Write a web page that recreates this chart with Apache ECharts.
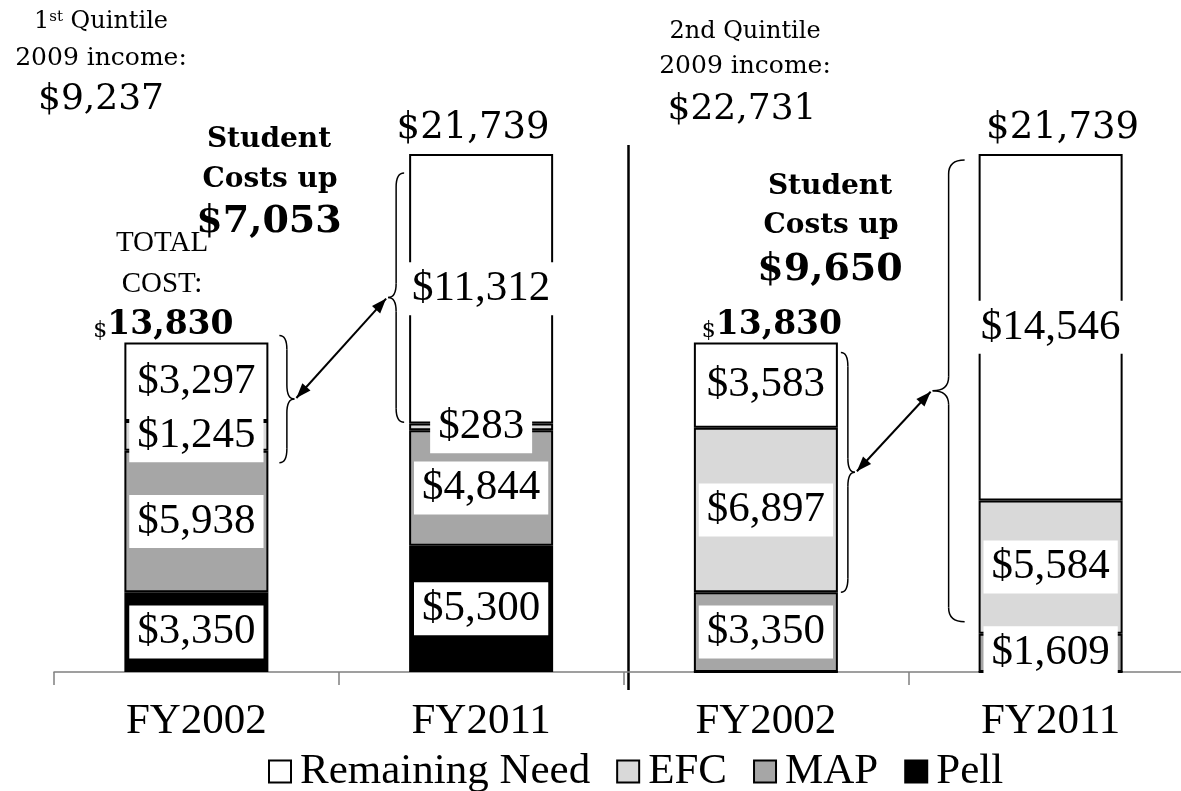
<!DOCTYPE html>
<html>
<head>
<meta charset="utf-8">
<script src="https://cdn.jsdelivr.net/npm/echarts@6/dist/echarts.min.js"></script>
<style>
  html, body { margin: 0; padding: 0; background: #fff; }
  #chart { width: 1181px; height: 791px; }
</style>
</head>
<body>
<div id="chart"></div>
<script>
// data
const categories = ['FY2002', 'FY2011', 'FY2002', 'FY2011'];
const pell = [3350, 5300, 0, 0];
const mapGrant = [5938, 4844, 3350, 1609];
const efc = [1245, 283, 6897, 5584];
const remainingNeed = [3297, 11312, 3583, 14546];

const totals = categories.map((c, i) => pell[i] + mapGrant[i] + efc[i] + remainingNeed[i]);

const serif = 'Liberation Serif';
const century = 'DejaVu Serif';

const money = (v) => '$' + v.toLocaleString('en-US');

// hide labels on empty segments
const toItems = (arr) => arr.map((v) => (v === 0 ? { value: v, label: { show: false } } : v));

const segLabel = {
  show: true,
  position: 'inside',
  formatter: (p) => money(p.value),
  backgroundColor: '#fff',
  padding: [5, 8],
  color: '#000',
  fontFamily: serif,
  fontSize: 43,
};

const makeSeries = (name, arr, color) => ({
  name,
  type: 'bar',
  stack: 'cost',
  barWidth: 144,
  data: toItems(arr),
  itemStyle: { color, borderColor: '#000', borderWidth: 2 },
  label: segLabel,
});

const chart = echarts.init(document.getElementById('chart'));

chart.setOption({
  animation: false,
  backgroundColor: '#fff',
  // the plot runs past the right edge of the picture
  grid: { left: 54, width: 1139, top: 100, height: 572, outerBoundsMode: 'none', containLabel: false },
  legend: {
    data: ['Remaining Need', 'EFC', 'MAP', 'Pell'],
    left: 268,
    top: 750,
    padding: 0,
    itemWidth: 22,
    itemHeight: 22,
    itemGap: 26,
    icon: 'rect',
    textStyle: { fontFamily: serif, fontSize: 43, color: '#000', padding: [0, 0, 0, 4] },
  },
  xAxis: {
    type: 'category',
    data: categories,
    axisLine: { lineStyle: { color: '#808080', width: 1.5 } },
    axisTick: { show: true, length: 13, lineStyle: { color: '#808080', width: 1.5 } },
    axisLabel: { margin: 28, color: '#000', fontFamily: serif, fontSize: 43 },
  },
  yAxis: {
    type: 'value',
    min: 0,
    max: 24000,
    show: false,
    splitLine: { show: false },
  },
  series: [
    makeSeries('Pell', pell, '#000000'),
    makeSeries('MAP', mapGrant, '#a6a6a6'),
    makeSeries('EFC', efc, '#d9d9d9'),
    makeSeries('Remaining Need', remainingNeed, '#ffffff'),
  ],
});

// annotations: braces, arrows, divider and texts
const px = (ci, v) => chart.convertToPixel({ gridIndex: 0 }, [ci, v]);
const halfBar = 72;

// brace around "student costs" (EFC + Remaining Need)
const braces = [
  { cat: 0, side: 'right', gap: 11, width: 15, dTop: -7, dBot: 12 },
  { cat: 1, side: 'left', gap: 5, width: 16, dTop: 19, dBot: -8 },
  { cat: 2, side: 'right', gap: 3, width: 14, dTop: 10, dBot: 0 },
  { cat: 3, side: 'left', gap: 14, width: 32, dTop: 6, dBot: -12 },
];

const graphics = [];
const tips = [];
const stroke = { fill: null, stroke: '#000', lineWidth: 1.5 };

const curve = (x1, y1, cx, cy, x2, y2) => ({
  type: 'bezierCurve',
  shape: { x1, y1, cpx1: cx, cpy1: cy, x2, y2 },
  style: stroke,
});
const seg = (x1, y1, x2, y2, st) => ({
  type: 'line',
  shape: { x1, y1, x2, y2 },
  style: st || stroke,
});

braces.forEach((b) => {
  const i = b.cat;
  const top = px(i, totals[i]);
  const bot = px(i, pell[i] + mapGrant[i]);
  const dir = b.side === 'right' ? 1 : -1;
  const xb = top[0] + dir * (halfBar + b.gap);
  const xt = xb + dir * b.width;
  const xm = (xb + xt) / 2;
  const y0 = top[1] + b.dTop;
  const y1 = bot[1] + b.dBot;
  const ym = (y0 + y1) / 2;
  const r = Math.min(14, (y1 - y0) / 4);
  graphics.push(curve(xb, y0, xm, y0, xm, y0 + r));
  graphics.push(seg(xm, y0 + r, xm, ym - r));
  graphics.push(curve(xm, ym - r, xm, ym, xt, ym));
  graphics.push(curve(xt, ym, xm, ym, xm, ym + r));
  graphics.push(seg(xm, ym + r, xm, y1 - r));
  graphics.push(curve(xm, y1 - r, xm, y1, xb, y1));
  tips.push([xt, ym]);
});

const arrowHead = (tip, from) => {
  const ang = Math.atan2(tip[1] - from[1], tip[0] - from[0]);
  const len = 15;
  const w = 5.5;
  const bx = tip[0] - len * Math.cos(ang);
  const by = tip[1] - len * Math.sin(ang);
  return {
    type: 'polygon',
    shape: {
      points: [
        tip,
        [bx + w * Math.sin(ang), by - w * Math.cos(ang)],
        [bx - w * Math.sin(ang), by + w * Math.cos(ang)],
      ],
    },
    style: { fill: '#000' },
  };
};

[[0, 1], [2, 3]].forEach(([a, b]) => {
  const p1 = [tips[a][0] + 2, tips[a][1] - 1];
  const p2 = [tips[b][0] - 2, tips[b][1] + 1];
  graphics.push(seg(p1[0], p1[1], p2[0], p2[1], { stroke: '#000', lineWidth: 2 }));
  graphics.push(arrowHead(p1, p2));
  graphics.push(arrowHead(p2, p1));
});

// divider between the two quintiles
const divX = (px(1, 0)[0] + px(2, 0)[0]) / 2 + 5;
graphics.push(seg(divX, 145, divX, 690, { stroke: '#000', lineWidth: 2.5 }));

const txt = (text, x, y, size, weight) => ({
  type: 'text',
  style: {
    text, x, y,
    fontFamily: century, fontSize: size, fontWeight: weight || 'normal',
    fill: '#000', align: 'center', verticalAlign: 'middle',
  },
});

// quintile headers
graphics.push({
  type: 'text',
  style: {
    text: '{n|1}{s|st}{n| Quintile}',
    x: 101, y: 22, align: 'center', verticalAlign: 'middle',
    rich: {
      n: { fontFamily: century, fontSize: 24, fill: '#000', verticalAlign: 'bottom' },
      s: { fontFamily: century, fontSize: 15, fill: '#000', verticalAlign: 'top' },
    },
  },
});
graphics.push(txt('2009 income:', 101, 58, 25));
graphics.push(txt('$9,237', 101, 100, 36));
graphics.push(txt('2nd Quintile', 745, 32, 24));
graphics.push(txt('2009 income:', 745, 66, 25));
graphics.push(txt('$22,731', 742, 110, 36));

// totals above the FY2011 bars
[[1, -8], [3, 12]].forEach(([i, dx]) => {
  const p = px(i, totals[i]);
  graphics.push(txt(money(totals[i]), p[0] + dx, p[1] - 25, 37));
});

// totals above the FY2002 bars
[[0, -33], [2, 6]].forEach(([i, dx]) => {
  const p = px(i, totals[i]);
  graphics.push({
    type: 'text',
    style: {
      text: '{d|$}{v|' + totals[i].toLocaleString('en-US') + '}',
      x: p[0] + dx, y: p[1] - 17, align: 'center', verticalAlign: 'middle',
      rich: {
        d: { fontFamily: century, fontSize: 22, fill: '#000', verticalAlign: 'bottom' },
        v: { fontFamily: century, fontSize: 33, fontWeight: 'bold', fill: '#000', verticalAlign: 'bottom' },
      },
    },
  });
});

graphics.push({
  type: 'text',
  style: {
    text: 'TOTAL\nCOST:', x: 162, y: 264, align: 'center', verticalAlign: 'middle',
    fontFamily: serif, fontSize: 29, lineHeight: 41, fill: '#000',
  },
});

// "Student Costs up" call-outs
const upBy = (a, b) => (efc[b] + remainingNeed[b]) - (efc[a] + remainingNeed[a]);
graphics.push(txt('Student', 269, 140, 28, 'bold'));
graphics.push(txt('Costs up', 270, 180, 28, 'bold'));
graphics.push(txt(money(upBy(0, 1)), 269, 222, 38, 'bold'));
graphics.push(txt('Student', 830, 187, 28, 'bold'));
graphics.push(txt('Costs up', 831, 226, 28, 'bold'));
graphics.push(txt(money(upBy(2, 3)), 830, 270, 38, 'bold'));

chart.setOption({ graphic: graphics });

window.addEventListener('resize', () => chart.resize());
</script>
</body>
</html>
